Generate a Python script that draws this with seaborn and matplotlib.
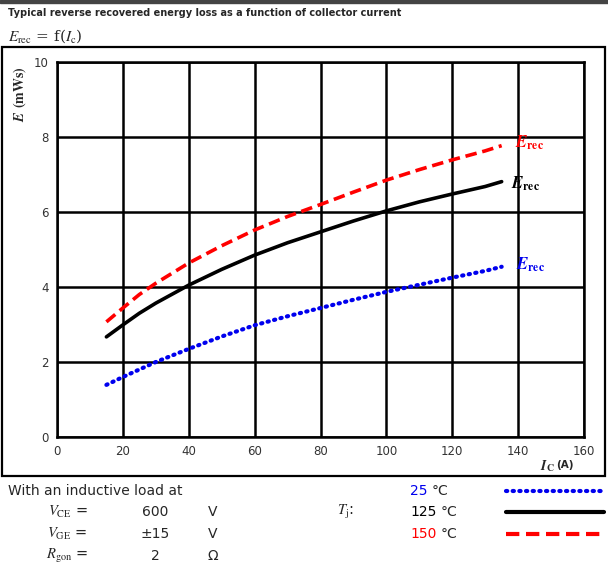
import numpy as np
import pandas as pd
import matplotlib
matplotlib.use("Agg")
import matplotlib.pyplot as plt
from matplotlib.patches import Rectangle
from matplotlib.lines import Line2D
import seaborn as sns

# data
ic = [15, 20, 25, 30, 40, 50, 60, 70, 80, 90, 100, 110, 120, 130, 135]
e_150 = [3.07, 3.44, 3.80, 4.10, 4.64, 5.10, 5.52, 5.88, 6.20, 6.53, 6.85, 7.13, 7.39, 7.63, 7.77]
e_125 = [2.67, 2.99, 3.30, 3.57, 4.05, 4.47, 4.85, 5.18, 5.47, 5.76, 6.03, 6.27, 6.48, 6.68, 6.81]
e_25 = [1.39, 1.60, 1.80, 2.00, 2.35, 2.68, 2.98, 3.22, 3.44, 3.66, 3.87, 4.06, 4.25, 4.43, 4.54]
x_ticks = [0, 20, 40, 60, 80, 100, 120, 140, 160]
y_ticks = [0, 2, 4, 6, 8, 10]

sns.set_style("white")
plt.rcParams["mathtext.fontset"] = "stix"
plt.rcParams["font.family"] = ["DejaVu Sans"]

W, H = 608, 569
fig = plt.figure(figsize=(W / 100, H / 100), dpi=100)
ax = fig.add_axes([57 / W, 1 - 437 / H, (584 - 57) / W, (437 - 62) / H])

sns.lineplot(x=ic, y=e_25, ax=ax, color="#0000ee", lw=3.0, linestyle=(0, (0.3, 1.3)),
             dash_capstyle="round", solid_capstyle="round")
sns.lineplot(x=ic, y=e_125, ax=ax, color="black", lw=2.6, solid_capstyle="round")
sns.lineplot(x=ic, y=e_150, ax=ax, color="#ff0000", lw=2.6, linestyle=(0, (3.2, 1.6)))

ax.set_xlim(0, 160)
ax.set_ylim(0, 10)
ax.set_xticks(x_ticks)
ax.set_yticks(y_ticks)
ax.grid(True, color="black", lw=1.8)
ax.set_axisbelow(True)
for s in ax.spines.values():
    s.set_color("black")
    s.set_linewidth(1.8)
ax.tick_params(length=0, labelsize=8.5, labelcolor="#333333", pad=6)
ax.set_xlabel("")
ax.set_ylabel("")

# curve labels
lab = r"$\mathbfit{E}_{\mathbf{rec}}$"
ax.text(139, 7.85, lab, color="#ff0000", fontsize=12, va="center", ha="left")
ax.text(137.8, 6.76, lab, color="black", fontsize=12, va="center", ha="left")
ax.text(139.5, 4.6, lab, color="#0000ee", fontsize=12, va="center", ha="left")

# axis labels
fig.text(20 / W, 1 - 94 / H, r"$\mathbfit{E}$ $\mathbf{(mWs)}$", rotation=90,
         fontsize=10, ha="center", va="center")
fig.text(547 / W, 1 - 466 / H, r"$\mathbfit{I}_{\mathbf{C}}$", fontsize=10,
         ha="center", va="center")
fig.text(556 / W, 1 - 465 / H, "(A)", fontsize=7.5, fontweight="bold",
         ha="left", va="center")

# header
fig.patches.append(Rectangle((0, 1 - 3 / H), 1, 3 / H, transform=fig.transFigure,
                             color="#444444", zorder=0))
fig.text(8 / W, 1 - 13 / H, "Typical reverse recovered energy loss as a function of collector current",
         fontsize=7, fontweight="bold", ha="left", va="center")
fig.text(8 / W, 1 - 36 / H, r"$E_{\mathrm{rec}}$ = f($I_{\mathrm{c}}$)", fontsize=11,
         ha="left", va="center", family="serif", math_fontfamily="stix")
fig.patches.append(Rectangle((2 / W, 1 - 476 / H), 603 / W, 429 / H, transform=fig.transFigure,
                             fill=False, ec="black", lw=1.6))

# conditions
fs = 10
fig.text(8 / W, 1 - 491 / H, "With an inductive load at", fontsize=fs, ha="left", va="center")
rows = [(r"$V_{\mathrm{CE}}$ =", "600", "V", 512),
        (r"$V_{\mathrm{GE}}$ =", "±15", "V", 534),
        (r"$R_{\mathrm{gon}}$ =", "2", "Ω", 556)]
for name, val, unit, y in rows:
    fig.text(88 / W, 1 - y / H, name, fontsize=fs + 0.5, ha="right", va="center")
    fig.text(155 / W, 1 - y / H, val, fontsize=fs, ha="center", va="center")
    fig.text(213 / W, 1 - y / H, unit, fontsize=fs, ha="center", va="center")
fig.text(345 / W, 1 - 512 / H, r"$T_{\mathrm{j}}$:", fontsize=fs + 0.5, ha="center", va="center")

temps = [("25", "#0000ee", 491), ("125", "black", 512), ("150", "#ff0000", 534)]
for t, c, y in temps:
    tt = fig.text(410 / W, 1 - y / H, t, fontsize=fs, color=c, ha="left", va="center")
    fig.canvas.draw()
    bb = tt.get_window_extent()
    fig.text(bb.x1 / W + 4 / W, 1 - y / H, "°C", fontsize=fs, ha="left", va="center")

fig.lines.append(Line2D([506 / W, 602 / W], [1 - 491 / H] * 2, transform=fig.transFigure,
                        color="#0000ee", lw=3.0, linestyle=(0, (0.3, 1.3)), dash_capstyle="round"))
fig.lines.append(Line2D([506 / W, 604 / W], [1 - 512 / H] * 2, transform=fig.transFigure,
                        color="black", lw=3.0))
fig.lines.append(Line2D([506 / W, 604 / W], [1 - 534 / H] * 2, transform=fig.transFigure,
                        color="#ff0000", lw=3.0, linestyle=(0, (3.2, 1.6))))

fig.savefig("out.png", dpi=100)
